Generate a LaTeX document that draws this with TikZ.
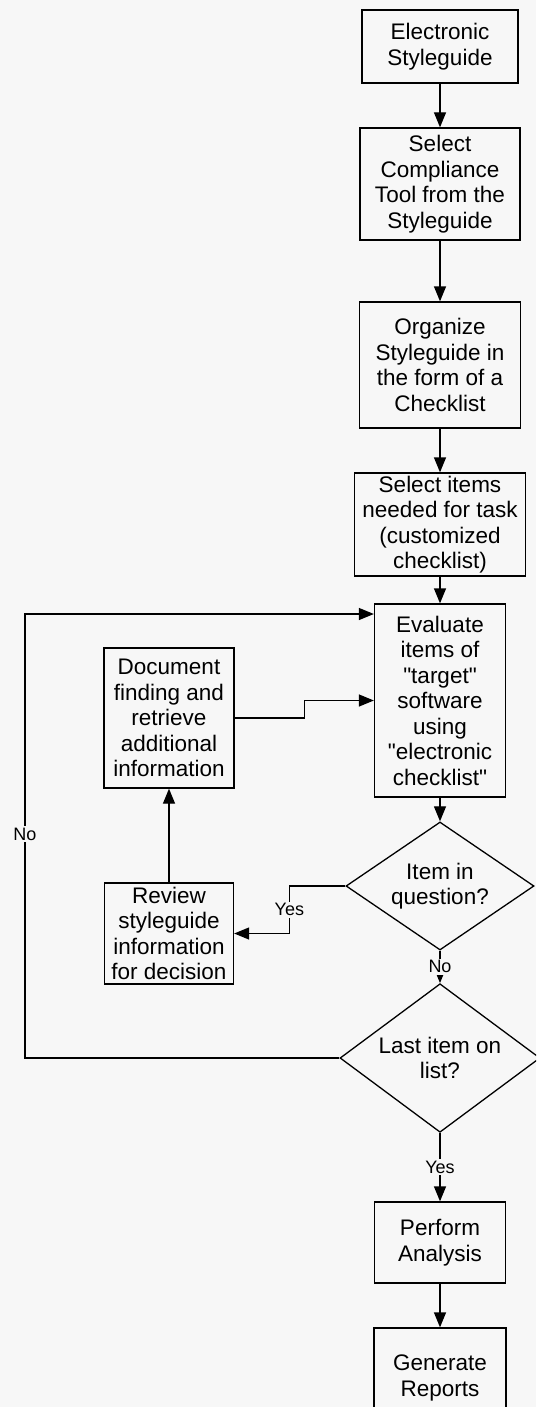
\documentclass[tikz,border=0pt]{standalone}
\usepackage{fontspec}
\setmainfont{Liberation Sans}
\usetikzlibrary{arrows.meta,shapes.geometric}
\definecolor{paper}{RGB}{247,247,247}

\begin{document}
\begin{tikzpicture}[x=1pt,y=-1pt,line width=1.3pt,
  >={Triangle[length=15pt,width=12pt]},
  box/.style={rectangle, draw, inner sep=1pt, align=center, font=\fontsize{22.5}{25.5}\selectfont},
  ask/.style={diamond, draw, inner sep=-4pt, align=center, font=\fontsize{22.5}{25.5}\selectfont},
  lbl/.style={fill=paper, inner sep=1.5pt, font=\fontsize{18}{20}\selectfont}]

\useasboundingbox (0,0) rectangle (536,1407);
\fill[paper] (0,0) rectangle (536,1407);
\clip (0,0) rectangle (536,1407);

% checklist procedure
\node[box, minimum width=156, minimum height=73] (esg) at (440,46.5) {Electronic\\Styleguide};
\node[box, minimum width=160, minimum height=112] (sct) at (440,184) {Select\\Compliance\\Tool from the\\Styleguide};
\node[box, minimum width=161, minimum height=126] (org) at (440,365) {Organize\\Styleguide in\\the form of a\\Checklist};
\node[box, minimum width=171, minimum height=103] (sel) at (440,524.5) {Select items\\needed for task\\(customized\\checklist)};
\node[box, minimum width=131, minimum height=193] (eval) at (440,700.5) {Evaluate\\items of\\\textquotedbl target\textquotedbl\\software\\using\\\textquotedbl electronic\\checklist\textquotedbl};
\node[ask, minimum width=188, minimum height=98] (q1) at (440,886) {Item in\\question?};
\node[ask, minimum width=200, minimum height=117] (q2) at (440,1058) {Last item on\\list?};
\node[box, minimum width=131, minimum height=81] (perf) at (440,1242.5) {Perform\\Analysis};
\node[box, minimum width=132, minimum height=100] (gen) at (440,1378) {Generate\\Reports};

\node[box, minimum width=130, minimum height=140] (doc) at (169,718) {Document\\finding and\\retrieve\\additional\\information};
\node[box, minimum width=129, minimum height=101] (rev) at (169,933.5) {Review\\styleguide\\information\\for decision};

\draw[->] (esg) edge (sct) (sct) edge (org) (org) edge (sel) (sel) edge (eval) (eval) edge (q1) (perf) edge (gen);
\draw[->] (q1) edge node[lbl] {No} (q2);
\draw[->] (q2) edge node[lbl] {Yes} (perf);

% side loop
\draw[->] (q1.west) -- ++(-56,0) |- node[lbl, pos=0.25] {Yes} (rev.east);
\draw[->] (rev) edge (doc);
\draw[->] (doc.east) -- ++(70,0) |- (eval.west);

\coordinate (back) at (25,614);
\draw[->] (q2.west) -| (back) -- (back -| eval.west);
\node[lbl] (no2) at (25,834) {No};

\end{tikzpicture}
\end{document}
